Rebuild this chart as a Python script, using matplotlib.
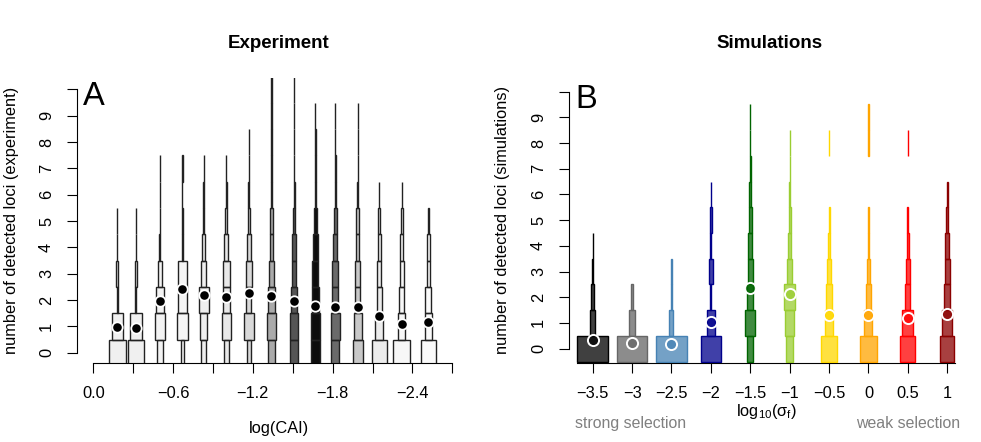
import numpy as np
import matplotlib
matplotlib.use("Agg")
import matplotlib.pyplot as plt

plt.rcParams['font.family'] = ['Liberation Sans', 'DejaVu Sans']
plt.rcParams['mathtext.default'] = 'regular'
plt.rcParams['axes.unicode_minus'] = True

# ---- panel A data: experiment, binned by log(CAI) ----
cai_pos = [-0.18, -0.32, -0.50, -0.67, -0.83, -1.00, -1.17, -1.34, -1.51,
           -1.67, -1.82, -1.99, -2.15, -2.32, -2.52]
cai_mean = [0.96, 0.94, 1.95, 2.43, 2.19, 2.13, 2.28, 2.15, 1.98,
            1.77, 1.75, 1.72, 1.39, 1.10, 1.17]
# relative frequency of 0, 1, 2, ... detected loci in each bin
cai_freq = [
    [0.42, 0.27, 0.025, 0.04, 0.005, 0.005],
    [0.39, 0.31, 0.03, 0.04, 0.005, 0.005],
    [0.14, 0.25, 0.19, 0.09, 0.025, 0.012, 0.005, 0.005],
    [0.06, 0.29, 0.21, 0.21, 0.025, 0.012, 0.003, 0.04],
    [0.12, 0.19, 0.26, 0.12, 0.08, 0.025, 0.012, 0.005],
    [0.12, 0.23, 0.17, 0.17, 0.10, 0.06, 0.025, 0.003],
    [0.11, 0.26, 0.12, 0.14, 0.09, 0.06, 0.025, 0.005, 0.003],
    [0.17, 0.21, 0.19, 0.12, 0.09, 0.075, 0.04, 0.025, 0.012, 0.005, 0.003, 0.003],
    [0.18, 0.22, 0.17, 0.12, 0.09, 0.06, 0.025, 0.012, 0.012, 0.005, 0.003, 0.003],
    [0.22, 0.23, 0.19, 0.15, 0.11, 0.075, 0.04, 0.025, 0.025, 0.005],
    [0.21, 0.22, 0.16, 0.16, 0.11, 0.07, 0.025, 0.012, 0.005, 0.005],
    [0.27, 0.20, 0.13, 0.12, 0.08, 0.07, 0.025, 0.012, 0.005, 0.005],
    [0.37, 0.21, 0.13, 0.10, 0.08, 0.05, 0.012],
    [0.43, 0.17, 0.13, 0.10, 0.075, 0.04, 0.012],
    [0.39, 0.19, 0.15, 0.09, 0.07, 0.03],
]
cai_grey = ['#f0f0f0', '#f0f0f0', '#f3f3f3', '#f5f5f5', '#efefef', '#e8e8e8',
            '#d9d9d9', '#aaaaaa', '#555555', '#0d0d0d', '#6a6a6a', '#c8c8c8',
            '#ececec', '#f7f7f7', '#fafafa']
cai_ticks = [0.0, -0.3, -0.6, -0.9, -1.2, -1.5, -1.8, -2.1, -2.4, -2.7]
cai_labels = ['0.0', '', '\u22120.6', '', '\u22121.2', '', '\u22121.8', '', '\u22122.4', '']

# ---- panel B data: simulations, by log10(sigma_f) ----
sig_pos = [-3.5, -3.0, -2.5, -2.0, -1.5, -1.0, -0.5, 0.0, 0.5, 1.0]
sig_mean = [0.34, 0.21, 0.18, 1.04, 2.38, 2.12, 1.30, 1.30, 1.19, 1.34]
sig_freq = [
    [0.77, 0.125, 0.06, 0.025, 0.008],
    [0.77, 0.14, 0.05],
    [0.78, 0.10, 0.03, 0.008],
    [0.49, 0.19, 0.025, 0.10, 0.025, 0.04, 0.008],
    [0.16, 0.24, 0.16, 0.125, 0.09, 0.07, 0.04, 0.025, 0.008, 0.003],
    [0.19, 0.22, 0.27, 0.13, 0.09, 0.05, 0.03, 0.008, 0.003],
    [0.38, 0.20, 0.15, 0.09, 0.05, 0.025, 0, 0, 0.003],
    [0.43, 0.20, 0.12, 0.08, 0.04, 0.025, 0, 0, 0.003, 0.003],
    [0.37, 0.27, 0.125, 0.09, 0.04, 0.025, 0, 0, 0.003],
    [0.36, 0.24, 0.16, 0.125, 0.09, 0.04, 0.025],
]
sig_cols = ['#000000', '#666666', '#4682b4', '#00008b', '#006400',
            '#9acd32', '#ffd700', '#ffa500', '#ff0000', '#8b0000']
sig_labels = ['\u22123.5', '\u22123', '\u22122.5', '\u22122', '\u22121.5',
              '\u22121', '\u22120.5', '0', '0.5', '1']

ytick_vals = list(range(11))
ytick_labs = [str(i) for i in range(10)] + ['']

FS = 11.8


def draw_group(ax, x, freq, scale, face, edge, alpha=1.0):
    freq = np.array(freq)
    k = np.arange(len(freq))
    keep = freq > 0
    ax.bar([x] * keep.sum(), np.ones(keep.sum()), width=freq[keep] * scale,
           bottom=k[keep] - 0.5, color=face, alpha=alpha, edgecolor='none', zorder=2)
    ax.bar([x] * keep.sum(), np.ones(keep.sum()), width=freq[keep] * scale,
           bottom=k[keep] - 0.5, facecolor='none', edgecolor=edge, linewidth=1.0, zorder=3)


def style_axis(ax):
    for s in ['top', 'right']:
        ax.spines[s].set_visible(False)
    ax.spines['left'].set_bounds(0, 10)
    ax.tick_params(length=7.5, width=0.8, labelsize=FS, pad=9)
    ax.set_yticks(ytick_vals)
    ax.set_yticklabels(ytick_labs, rotation=90, va='center')


fig = plt.figure(figsize=(9.81, 4.42), dpi=100)
axA = fig.add_axes([0.0785, 0.1794, 0.4118, 0.6435])
axB = fig.add_axes([0.5800, 0.1794, 0.4098, 0.6435])

# panel A
for x, f, g in zip(cai_pos, cai_freq, cai_grey):
    draw_group(axA, x, f, 0.30, g, '#222222')
axA.plot(cai_pos, cai_mean, 'o', color='black', markersize=7.5,
         markeredgecolor='white', markeredgewidth=1.3, zorder=5)
axA.set_xlim(0.123, -2.916)
axA.set_ylim(-0.38, 10.42)
style_axis(axA)
axA.spines['bottom'].set_bounds(0, -2.7)
axA.set_xticks(cai_ticks)
axA.set_xticklabels(cai_labels)
axA.set_ylabel('number of detected loci (experiment)', fontsize=FS)
axA.yaxis.set_label_coords(-0.143, 0.5)
axA.text(0.5, -0.23, 'log(CAI)', transform=axA.transAxes, ha='center',
         va='center', fontsize=FS)
axA.text(0.5, 1.124, 'Experiment', transform=axA.transAxes, ha='center',
         va='center', fontsize=13.5, fontweight='bold')
axA.text(0.015, 0.935, 'A', transform=axA.transAxes, ha='left',
         va='center', fontsize=23.5)

# panel B
for x, f, c in zip(sig_pos, sig_freq, sig_cols):
    draw_group(axB, x, f, 0.5076, c, c, alpha=0.75)
for x, m, c in zip(sig_pos, sig_mean, sig_cols):
    axB.plot([x], [m], 'o', color=c, alpha=0.75, markersize=8,
             markeredgecolor='none', zorder=5)
    axB.plot([x], [m], 'o', markerfacecolor='none', markersize=8,
             markeredgecolor='white', markeredgewidth=1.4, zorder=6)
axB.set_xlim(-3.801, 1.301)
axB.set_ylim(-0.545, 10.52)
style_axis(axB)
axB.spines['bottom'].set_bounds(-3.7, 1.1)
axB.set_xticks(sig_pos)
axB.set_xticklabels(sig_labels)
axB.set_ylabel('number of detected loci (simulations)', fontsize=FS)
axB.yaxis.set_label_coords(-0.147, 0.5)
axB.text(0.492, -0.17, 'log$_{10}$(σ$_{f}$)', transform=axB.transAxes,
         ha='center', va='center', fontsize=FS)
axB.text(0.152, -0.214, 'strong selection', transform=axB.transAxes,
         ha='center', va='center', fontsize=11.4, color='#808080')
axB.text(0.843, -0.214, 'weak selection', transform=axB.transAxes,
         ha='center', va='center', fontsize=11.4, color='#808080')
axB.text(0.5, 1.124, 'Simulations', transform=axB.transAxes, ha='center',
         va='center', fontsize=13.5, fontweight='bold')
axB.text(0.015, 0.924, 'B', transform=axB.transAxes, ha='left',
         va='center', fontsize=23.5)

fig.savefig('out.png', dpi=100)
